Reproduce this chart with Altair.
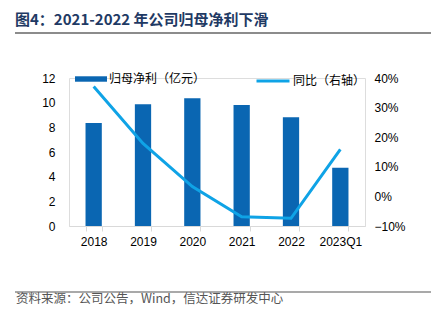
import altair as alt
import pandas as pd

years = ["2018", "2019", "2020", "2021", "2022", "2023Q1"]
profit = [8.35, 9.87, 10.36, 9.81, 8.82, 4.73]          # 归母净利（亿元）
yoy_pct = [37.1, 17.9, 3.3, -6.9, -7.4, 15.9]            # 同比（%）
left_ticks = [0, 2, 4, 6, 8, 10, 12]
right_ticks = [-0.1, 0.0, 0.1, 0.2, 0.3, 0.4]

title_text = "图4：2021-2022 年公司归母净利下滑"
source_text = "资料来源：公司公告，Wind，信达证券研发中心"
bar_name = "归母净利（亿元）"
line_name = "同比（右轴）"

BAR = "#0A66B2"
LINE = "#0FA3E6"
FONT = "Liberation Sans"
CJK = "Noto Sans CJK SC"

df = pd.DataFrame({
    "year": years,
    "profit": profit,
    "yoy": [v / 100 for v in yoy_pct],
    "s1": bar_name,
    "s2": line_name,
})

x_enc = alt.X(
    "year:N", sort=years, title=None,
    scale=alt.Scale(paddingInner=0.67, paddingOuter=0.335),
    axis=alt.Axis(labelAngle=0, domainColor="#D9D9D9", domainWidth=1,
                  tickColor="#D9D9D9", tickBand="extent", tickSize=5,
                  labelPadding=5, labelFontSize=12, labelColor="#000",
                  labelFont=FONT),
)

bars = alt.Chart(df).mark_bar().encode(
    x=x_enc,
    y=alt.Y("profit:Q", title=None,
            scale=alt.Scale(domain=[0, 12], nice=False, zero=True),
            axis=alt.Axis(values=left_ticks, grid=False, domain=False, ticks=False,
                          labelPadding=14, labelFontSize=12, labelColor="#000",
                          labelFont=FONT)),
    color=alt.Color("s1:N", title=None,
                    scale=alt.Scale(range=[BAR]),
                    legend=alt.Legend(orient="none", legendX=6, legendY=-15,
                                      symbolType="M-1,-0.17H1V0.17H-1Z",
                                      symbolSize=1024, symbolStrokeWidth=0,
                                      labelFontSize=12, labelFont=CJK,
                                      labelColor="#000", labelOffset=2,
                                      padding=0)),
)

line = alt.Chart(df).mark_line(strokeWidth=3).encode(
    x=x_enc,
    y=alt.Y("yoy:Q", title=None,
            scale=alt.Scale(domain=[-0.1, 0.4], nice=False, zero=False),
            axis=alt.Axis(orient="right", values=right_ticks, format=".0%",
                          grid=False, domain=False, ticks=False,
                          labelPadding=9, labelFontSize=12, labelColor="#000",
                          labelFont=FONT)),
    stroke=alt.Stroke("s2:N", title=None,
                      scale=alt.Scale(range=[LINE]),
                      legend=alt.Legend(orient="none", legendX=186, legendY=-15,
                                        symbolType="stroke", symbolStrokeWidth=3,
                                        symbolSize=1089,
                                        labelFontSize=12, labelFont=CJK,
                                        labelColor="#000", labelOffset=2,
                                        padding=0)),
)

one = pd.DataFrame({"k": [0]})

title = alt.Chart(one).mark_text(
    align="left", baseline="alphabetic", fontSize=15, fontWeight="bold",
    font=CJK, color="#1F3A64"
).encode(x=alt.value(-54), y=alt.value(-53), text=alt.value(title_text))

rule_top = alt.Chart(one).mark_rule(color="#8C8C8C", strokeWidth=2).encode(
    x=alt.value(-54), x2=alt.value(362), y=alt.value(-45))

rule_bottom = alt.Chart(one).mark_rule(color="#8C8C8C", strokeWidth=1.5).encode(
    x=alt.value(-54), x2=alt.value(362), y=alt.value(214))

source = alt.Chart(one).mark_text(
    align="left", baseline="middle", fontSize=12.5, font=CJK, color="#555555"
).encode(x=alt.value(-53), y=alt.value(221), text=alt.value(source_text))

chart = alt.layer(bars, line, title, rule_top, rule_bottom, source).resolve_scale(
    y="independent"
).properties(
    width=296, height=148,
    autosize=alt.AutoSizeParams(type="none"),
    padding={"left": 69, "top": 78, "right": 66, "bottom": 96},
).configure_view(stroke=None).configure(background="white")

chart.save("out.html", embed_options={"renderer": "svg", "actions": False})
